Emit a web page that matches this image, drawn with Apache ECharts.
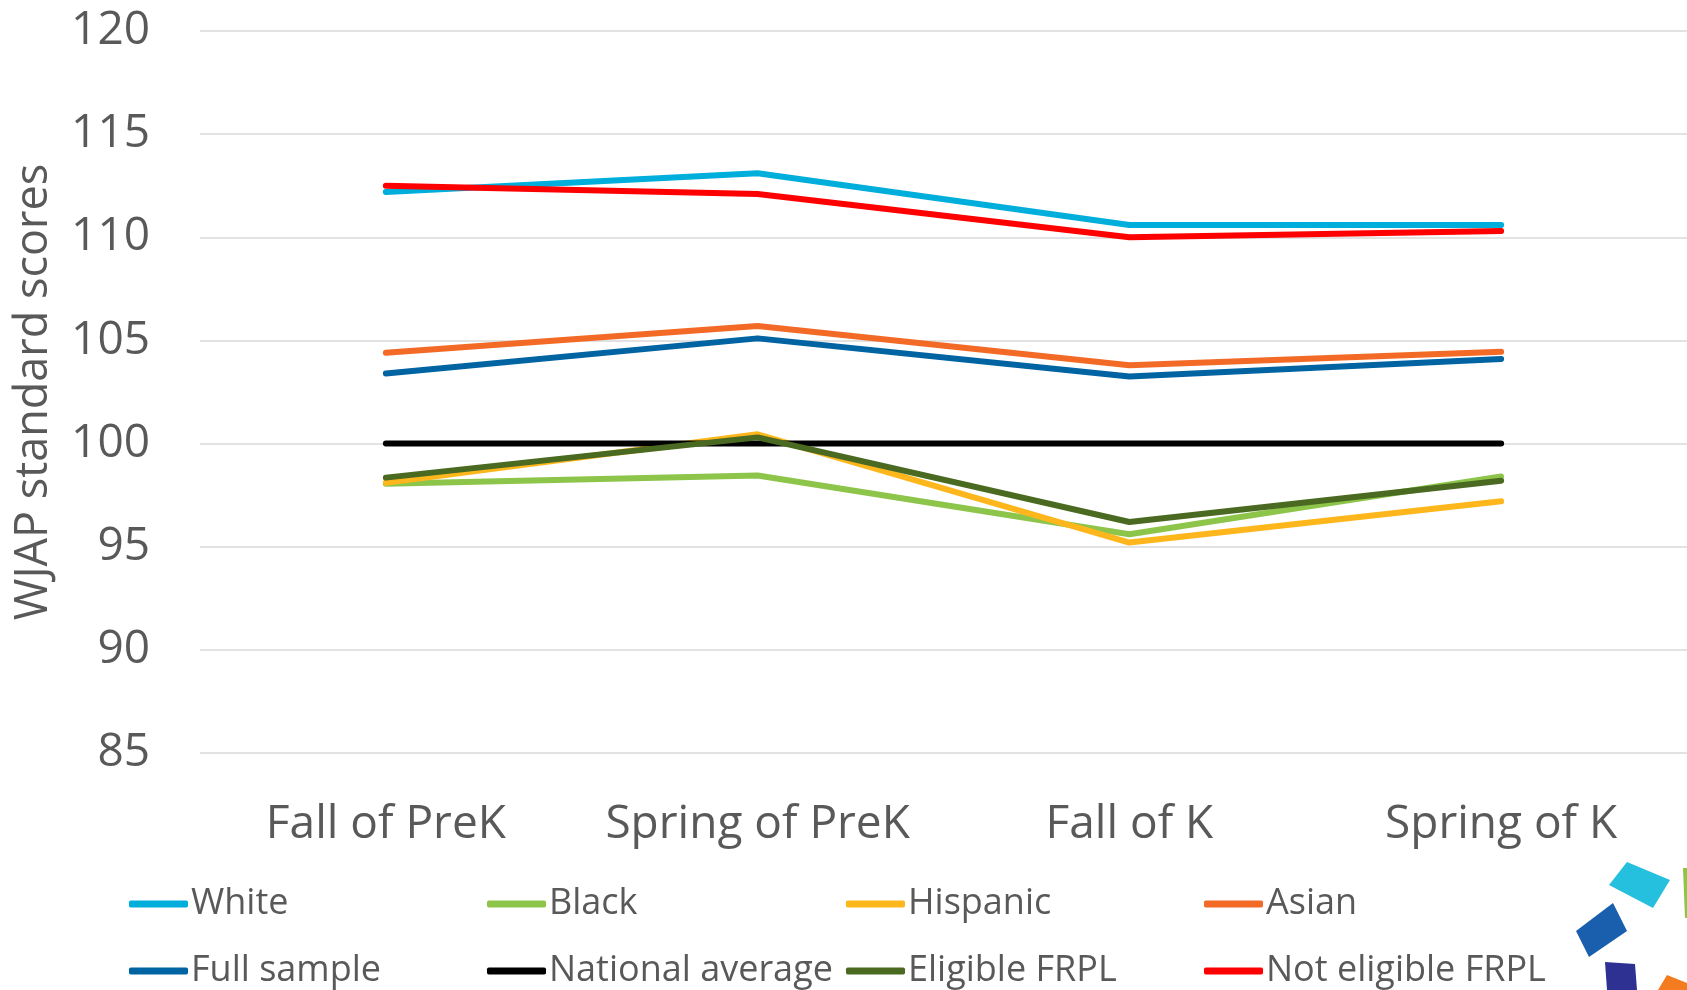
<!DOCTYPE html>
<html>
<head>
<meta charset="utf-8">
<script src="https://cdn.jsdelivr.net/npm/echarts@6/dist/echarts.min.js"></script>
<style>
html,body{margin:0;padding:0;background:#fff;}
#chart{width:1687px;height:990px;}
</style>
</head>
<body>
<div id="chart"></div>
<script>
const categories = ['Fall of PreK', 'Spring of PreK', 'Fall of K', 'Spring of K'];
const yTicks = {min: 85, max: 120, interval: 5};
const seriesNames = ['White', 'Black', 'Hispanic', 'Asian', 'Full sample', 'National average', 'Eligible FRPL', 'Not eligible FRPL'];
const white = [112.2, 113.1, 110.6, 110.6];
const black = [98.05, 98.45, 95.6, 98.4];
const hispanic = [98.1, 100.45, 95.2, 97.2];
const asian = [104.4, 105.7, 103.8, 104.45];
const fullSample = [103.4, 105.1, 103.25, 104.1];
const nationalAverage = [100, 100, 100, 100];
const eligibleFRPL = [98.35, 100.3, 96.2, 98.2];
const notEligibleFRPL = [112.5, 112.1, 110.0, 110.3];
const seriesValues = [white, black, hispanic, asian, fullSample, nationalAverage, eligibleFRPL, notEligibleFRPL];
const colors = ['#00AEDB', '#8DC54A', '#FDB71C', '#F26A26', '#0063A2', '#000000', '#4A6A21', '#FF0000'];

const FONT = "'Open Sans', 'Noto Sans', sans-serif";
const TXT = '#595959';

const chart = echarts.init(document.getElementById('chart'), null, {renderer: 'canvas'});

const legendCols = [129, 487, 846, 1204];
const legendRows = [886, 953];
const legends = seriesNames.map((n, i) => ({
  orient: 'horizontal',
  left: legendCols[i % 4],
  top: legendRows[Math.floor(i / 4)],
  padding: 0,
  itemWidth: 59,
  itemHeight: 7,
  icon: 'roundRect',
  selectedMode: false,
  data: [n],
  textStyle: {fontFamily: FONT, fontSize: 36, color: TXT, lineHeight: 36, padding: [0, 0, 0, -2]}
}));

const option = {
  backgroundColor: '#ffffff',
  animation: false,
  color: colors,
  grid: {left: 200, top: 31, width: 1490, height: 722, containLabel: false},
  legend: legends,
  xAxis: {
    type: 'category',
    data: categories,
    boundaryGap: true,
    axisLine: {show: false},
    axisTick: {show: false},
    axisLabel: {fontFamily: FONT, fontSize: 46, color: TXT, margin: 49, interval: 0, hideOverlap: false}
  },
  yAxis: {
    type: 'value',
    min: yTicks.min,
    max: yTicks.max,
    interval: yTicks.interval,
    name: 'WJAP standard scores',
    nameLocation: 'middle',
    nameRotate: 90,
    nameGap: 143,
    nameTextStyle: {fontFamily: FONT, fontSize: 45, color: TXT},
    axisLine: {show: false},
    axisTick: {show: false},
    axisLabel: {fontFamily: FONT, fontSize: 46, color: TXT, margin: 50},
    splitLine: {show: true, lineStyle: {color: '#D9D9D9', width: 1.5}}
  },
  series: seriesNames.map((n, i) => ({
    name: n,
    type: 'line',
    data: seriesValues[i],
    showSymbol: false,
    symbol: 'none',
    lineStyle: {width: 6, color: colors[i], cap: 'round', join: 'round'},
    itemStyle: {color: colors[i]},
    z: 2 + i
  })),
  graphic: [
    {type: 'polygon', shape: {points: [[1627, 862], [1670, 880], [1653, 908], [1609, 885]]}, style: {fill: '#25C0DD'}},
    {type: 'polygon', shape: {points: [[1613, 903], [1627, 931], [1589, 957], [1576, 931]]}, style: {fill: '#1A5FAD'}},
    {type: 'polygon', shape: {points: [[1605, 962], [1635, 964], [1637, 990], [1607, 990]]}, style: {fill: '#2E3192'}},
    {type: 'polygon', shape: {points: [[1667, 975], [1687, 983], [1687, 990], [1658, 990]]}, style: {fill: '#F47B20'}},
    {type: 'polygon', shape: {points: [[1683, 868], [1687, 868], [1687, 918], [1685, 918]]}, style: {fill: '#8DC63F'}}
  ]
};
chart.setOption(option);
</script>
</body>
</html>
